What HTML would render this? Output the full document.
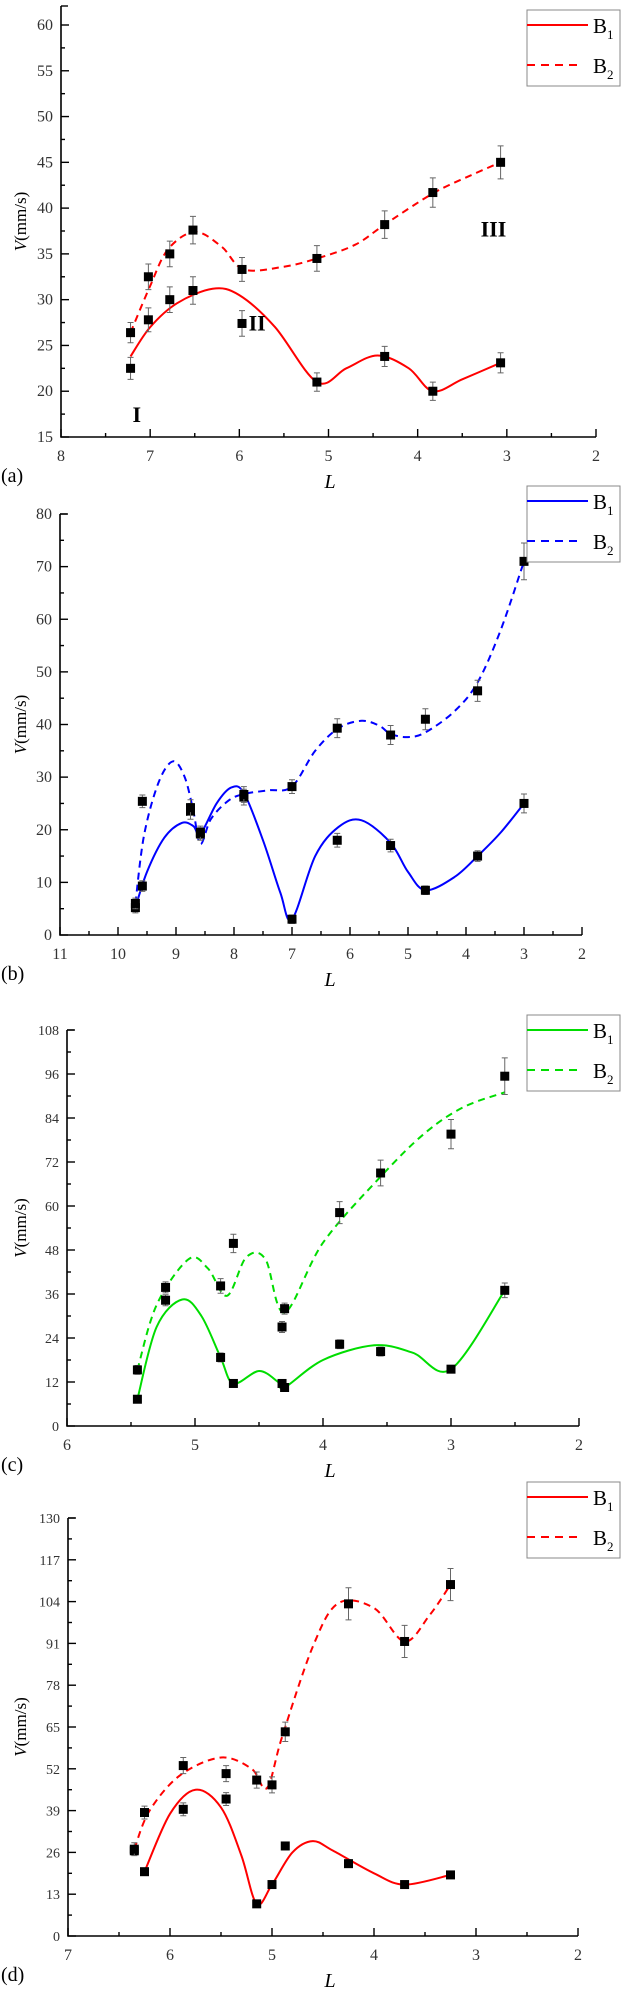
<!DOCTYPE html>
<html><head><meta charset="utf-8">
<style>
html,body{margin:0;padding:0;background:#fff;}
svg{display:block;font-family:"Liberation Serif",serif;}
</style></head>
<body>
<svg id="chart" width="623" height="2000" viewBox="0 0 623 2000" xmlns="http://www.w3.org/2000/svg"></svg>
<script>
// ---------- Panel (a) ----------
const aL  = [7.22,7.02,6.78,6.52,5.97,5.13,4.37,3.83,3.07];
const aB1 = [22.5,27.8,30,31,27.4,21,23.8,20,23.1];
const aB2 = [26.4,32.5,35,37.6,33.3,34.5,38.2,41.7,45];
const aE1 = [1.2,1.3,1.4,1.5,1.4,1.0,1.1,1.0,1.1];
const aE2 = [1.1,1.4,1.4,1.5,1.3,1.4,1.5,1.6,1.8];
const aC1L = [7.22,7.0,6.7,6.3,6.0,5.6,5.13,4.8,4.45,4.1,3.83,3.5,3.07];
const aC1V = [23.8,27,29.6,31.2,30.5,27,21,22.5,23.9,22.5,20,21.3,23.1];
const aC2L = [7.22,7.0,6.8,6.5,6.2,5.95,5.5,5.13,4.7,4.37,3.83,3.4,3.07];
const aC2V = [26.4,31.5,35.5,37.4,35.8,33.3,33.6,34.5,36,38.2,41.6,43.6,45];
const aXTicks = [8,7,6,5,4,3,2];
const aYTicks = [15,20,25,30,35,40,45,50,55,60];
// ---------- Panel (b) ----------
const bL  = [9.7,9.58,8.75,8.58,7.83,7.0,6.22,5.3,4.7,3.8,3.0];
const bB1 = [5.2,9.3,23.5,19.2,26.2,3,18,17,8.5,15,25];
const bB2 = [6,25.4,24.2,19.5,26.7,28.2,39.3,38,41,46.4,71];
const bE1 = [1,1,1.5,1.2,1.5,0.8,1.3,1.2,0.8,1,1.8];
const bE2 = [1,1.2,1.5,1.2,1.5,1.3,1.8,1.8,2,2,3.5];
const bC1L = [9.7,9.5,9.2,8.9,8.7,8.58,8.3,8.05,7.83,7.5,7.2,7.0,6.6,6.2,5.8,5.3,5.0,4.7,4.2,3.8,3.4,3.0];
const bC1V = [5.2,12,18.5,21.3,20.7,19.2,25,28,27,18,8,3,15,20.5,21.8,17.5,12,8.5,11,15,19.5,25];
const bC2L = [9.7,9.55,9.3,9.05,8.85,8.7,8.58,8.4,8.1,7.83,7.4,7.0,6.6,6.2,5.8,5.5,5.3,5.0,4.7,4.2,3.8,3.4,3.0];
const bC2V = [6,19,29,33,30,23.5,17.3,22,25.5,26.8,27.5,28.2,35,39.3,40.7,39.8,38.2,37.6,38.5,42.5,48,58,71];
const bXTicks = [11,10,9,8,7,6,5,4,3,2];
const bYTicks = [0,10,20,30,40,50,60,70,80];
// ---------- Panel (c) ----------
const cL  = [5.45,5.23,4.8,4.7,4.32,4.3,3.87,3.55,3.0,2.58];
const cB1 = [7.3,34.3,18.7,11.6,11.6,10.5,22.3,20.3,15.5,37];
const cB2 = [15.3,37.8,38.2,49.8,27,32,58.2,69,79.6,95.4];
const cE1 = [1,1.5,1.2,1,1,1,1.2,1.2,1,2];
const cE2 = [1.2,1.5,2,2.5,1.5,1.5,3,3.5,4,5];
const cC1L = [5.45,5.3,5.1,4.95,4.8,4.7,4.5,4.35,4.3,4.0,3.6,3.3,3.0,2.58];
const cC1V = [7.3,27,34.5,30,18.7,11.6,15,12,10.5,18,22,20,15.5,37];
const cC2L = [5.45,5.3,5.05,4.9,4.75,4.6,4.45,4.3,4.0,3.55,3.2,2.9,2.58];
const cC2V = [15.3,33,45.5,43,35.5,46,45.5,31,50,68,80,87,91];
const cXTicks = [6,5,4,3,2];
const cYTicks = [0,12,24,36,48,60,72,84,96,108];
// ---------- Panel (d) ----------
const dL  = [6.35,6.25,5.87,5.45,5.15,5.0,4.87,4.25,3.7,3.25];
const dB1 = [26.5,20,39.4,42.6,10,16,28,22.5,16,19];
const dB2 = [27,38.4,53,50.5,48.5,47,63.5,103.3,91.6,109.3];
const dE1 = [1,1,2,2,1,1,1.2,1.2,1,1];
const dE2 = [2,2,2.5,2.5,2.5,2.5,3,5,5,5];
const dC1L = [6.25,6.0,5.75,5.5,5.3,5.15,5.0,4.8,4.6,4.4,4.0,3.7,3.25];
const dC1V = [20,38,45.5,40,25,10,16,26,29.5,26.5,19.5,16,19];
const dC2L = [6.35,6.2,5.9,5.5,5.2,5.05,4.9,4.6,4.35,4.0,3.7,3.45,3.25];
const dC2V = [27,39,50,55.5,52,46,62,90,103.5,102,91.6,100,109.3];
const dXTicks = [7,6,5,4,3,2];
const dYTicks = [0,13,26,39,52,65,78,91,104,117,130];

const NS = "http://www.w3.org/2000/svg";
const svg = document.getElementById('chart');
function mk(tag, attrs, parent, text){
  const e = document.createElementNS(NS, tag);
  for (const k in attrs) e.setAttribute(k, attrs[k]);
  if (text !== undefined) e.textContent = text;
  (parent||svg).appendChild(e);
  return e;
}
function smoothPath(pts){
  let d = "M"+pts[0][0]+","+pts[0][1];
  for (let i=0;i<pts.length-1;i++){
    const p0=pts[Math.max(0,i-1)], p1=pts[i], p2=pts[i+1], p3=pts[Math.min(pts.length-1,i+2)];
    const t=6;
    const c1=[p1[0]+(p2[0]-p0[0])/t, p1[1]+(p2[1]-p0[1])/t];
    const c2=[p2[0]-(p3[0]-p1[0])/t, p2[1]-(p3[1]-p1[1])/t];
    d += " C"+c1[0].toFixed(1)+","+c1[1].toFixed(1)+" "+c2[0].toFixed(1)+","+c2[1].toFixed(1)+" "+p2[0].toFixed(1)+","+p2[1].toFixed(1);
  }
  return d;
}

function panel(cfg){
  const g = mk('g', {});
  
  
  const xs = v => cfg.x0 + (cfg.xmin - v)/(cfg.xmin - cfg.xmax)*(cfg.x1-cfg.x0);
  const ys = v => cfg.y0 - (v - cfg.ymin)/(cfg.ymax - cfg.ymin)*(cfg.y0-cfg.y1);
  // axes
  const ax = mk('path', {d:`M${cfg.x0},${cfg.top} L${cfg.x0},${cfg.y0} L${cfg.x1},${cfg.y0}`, fill:'none', stroke:'#000', 'stroke-width':1.6}, g);
  
  
  mk('line',{x1:cfg.x0,y1:cfg.top,x2:cfg.x0+7,y2:cfg.top,stroke:'#000','stroke-width':1.4},g);
  // x ticks
  cfg.xt.forEach((t,i)=>{
    const x = xs(t);
    mk('line',{x1:x,y1:cfg.y0,x2:x,y2:cfg.y0-8,stroke:'#000','stroke-width':1.4},g);
    if (i<cfg.xt.length-1){ const xm = xs((t+cfg.xt[i+1])/2); mk('line',{x1:xm,y1:cfg.y0,x2:xm,y2:cfg.y0-4,stroke:'#000','stroke-width':1.4},g); }
    const tl = mk('text',{x:x,y:cfg.y0+24,'font-size':16,'text-anchor':'middle',fill:'#333'},g,String(t));
    
    
  });
  cfg.yt.forEach((t,i)=>{
    const y = ys(t);
    mk('line',{x1:cfg.x0,y1:y,x2:cfg.x0+8,y2:y,stroke:'#000','stroke-width':1.4},g);
    if (i<cfg.yt.length-1){ const ym = ys((t+cfg.yt[i+1])/2); mk('line',{x1:cfg.x0,y1:ym,x2:cfg.x0+4,y2:ym,stroke:'#000','stroke-width':1.4},g); }
    const tl = mk('text',{x:cfg.x0-8,y:y+5,'font-size':cfg.yfs,'text-anchor':'end',fill:'#333'},g,String(t));
    
    
  });
  // axis titles
  const yc = (cfg.top+cfg.y0)/2;
  const yt = mk('text',{x:0,y:0,'font-size':17,'text-anchor':'middle',transform:`translate(26,${yc}) rotate(-90)`},g);
  
  
  mk('tspan',{'font-style':'italic'},yt,'V');
  mk('tspan',{},yt,'(mm/s)');
  const xt = mk('text',{x:330,y:cfg.y0+51,'font-size':20,'font-style':'italic','text-anchor':'middle'},g,'L');
  
  
  const pl = mk('text',{x:1,y:cfg.y0+45,'font-size':20},g,'('+cfg.id+')');
  
  
  // curves
  const c1 = mk('path',{d:smoothPath(cfg.c1L.map((l,i)=>[xs(l),ys(cfg.c1V[i])])),fill:'none',stroke:cfg.color,'stroke-width':2},g);
  
  
  const c2 = mk('path',{d:smoothPath(cfg.c2L.map((l,i)=>[xs(l),ys(cfg.c2V[i])])),fill:'none',stroke:cfg.color,'stroke-width':2,'stroke-dasharray':'7,5'},g);
  
  
  // points with error bars
  [[cfg.b1,cfg.e1,'b1'],[cfg.b2,cfg.e2,'b2']].forEach(([vals,errs,nm])=>{
    vals.forEach((v,i)=>{
      const x = xs(cfg.L[i]), y = ys(v), eh = Math.abs(ys(v+errs[i])-y);
      mk('path',{d:`M${x},${y-eh} V${y+eh} M${x-3},${y-eh} H${x+3} M${x-3},${y+eh} H${x+3}`,stroke:'#666','stroke-width':1,fill:'none'},g);
      const p = mk('rect',{x:x-4.5,y:y-4.5,width:9,height:9,fill:'#000'},g);
      
      
    });
  });
  // legend
  const lg = mk('g',{},g);
  
  
  const ly = cfg.legY;
  mk('rect',{x:527,y:ly,width:93,height:76,fill:'#fff',stroke:'#888','stroke-width':1},lg);
  mk('line',{x1:527,y1:ly+15,x2:588,y2:ly+15,stroke:cfg.color,'stroke-width':2},lg);
  mk('line',{x1:527,y1:ly+55,x2:582,y2:ly+55,stroke:cfg.color,'stroke-width':2,'stroke-dasharray':'8,6'},lg);
  const l1 = mk('text',{x:593,y:ly+23,'font-size':21},lg); mk('tspan',{},l1,'B'); mk('tspan',{'font-size':13,dy:6},l1,'1');
  
  
  const l2 = mk('text',{x:593,y:ly+63,'font-size':21},lg); mk('tspan',{},l2,'B'); mk('tspan',{'font-size':13,dy:6},l2,'2');
  
  
  return {g,xs,ys};
}

const pa = panel({id:'a',x0:61,x1:596,xmin:8,xmax:2,y0:437,y1:25,ymin:15,ymax:60,top:6,yfs:16,
  xt:aXTicks,yt:aYTicks,L:aL,b1:aB1,b2:aB2,e1:aE1,e2:aE2,c1L:aC1L,c1V:aC1V,c2L:aC2L,c2V:aC2V,color:'#ff0000',legY:10});
[['I',7.15,17.5],['II',5.8,27.5],['III',3.15,37.8]].forEach(([t,l,v])=>{
  const e = mk('text',{x:pa.xs(l),y:pa.ys(v)+8,'font-size':22,'font-weight':'bold','text-anchor':'middle'},pa.g,t);
  
  
});
panel({id:'b',x0:60,x1:582,xmin:11,xmax:2,y0:935,y1:514,ymin:0,ymax:80,top:514,yfs:16,
  xt:bXTicks,yt:bYTicks,L:bL,b1:bB1,b2:bB2,e1:bE1,e2:bE2,c1L:bC1L,c1V:bC1V,c2L:bC2L,c2V:bC2V,color:'#0000ff',legY:486});
panel({id:'c',x0:67,x1:579,xmin:6,xmax:2,y0:1426,y1:1030,ymin:0,ymax:108,top:1030,yfs:14,
  xt:cXTicks,yt:cYTicks,L:cL,b1:cB1,b2:cB2,e1:cE1,e2:cE2,c1L:cC1L,c1V:cC1V,c2L:cC2L,c2V:cC2V,color:'#00dd00',legY:1015});
panel({id:'d',x0:68,x1:578,xmin:7,xmax:2,y0:1936,y1:1518,ymin:0,ymax:130,top:1518,yfs:14,
  xt:dXTicks,yt:dYTicks,L:dL,b1:dB1,b2:dB2,e1:dE1,e2:dE2,c1L:dC1L,c1V:dC1V,c2L:dC2L,c2V:dC2V,color:'#ff0000',legY:1482});
</script>
</body></html>
